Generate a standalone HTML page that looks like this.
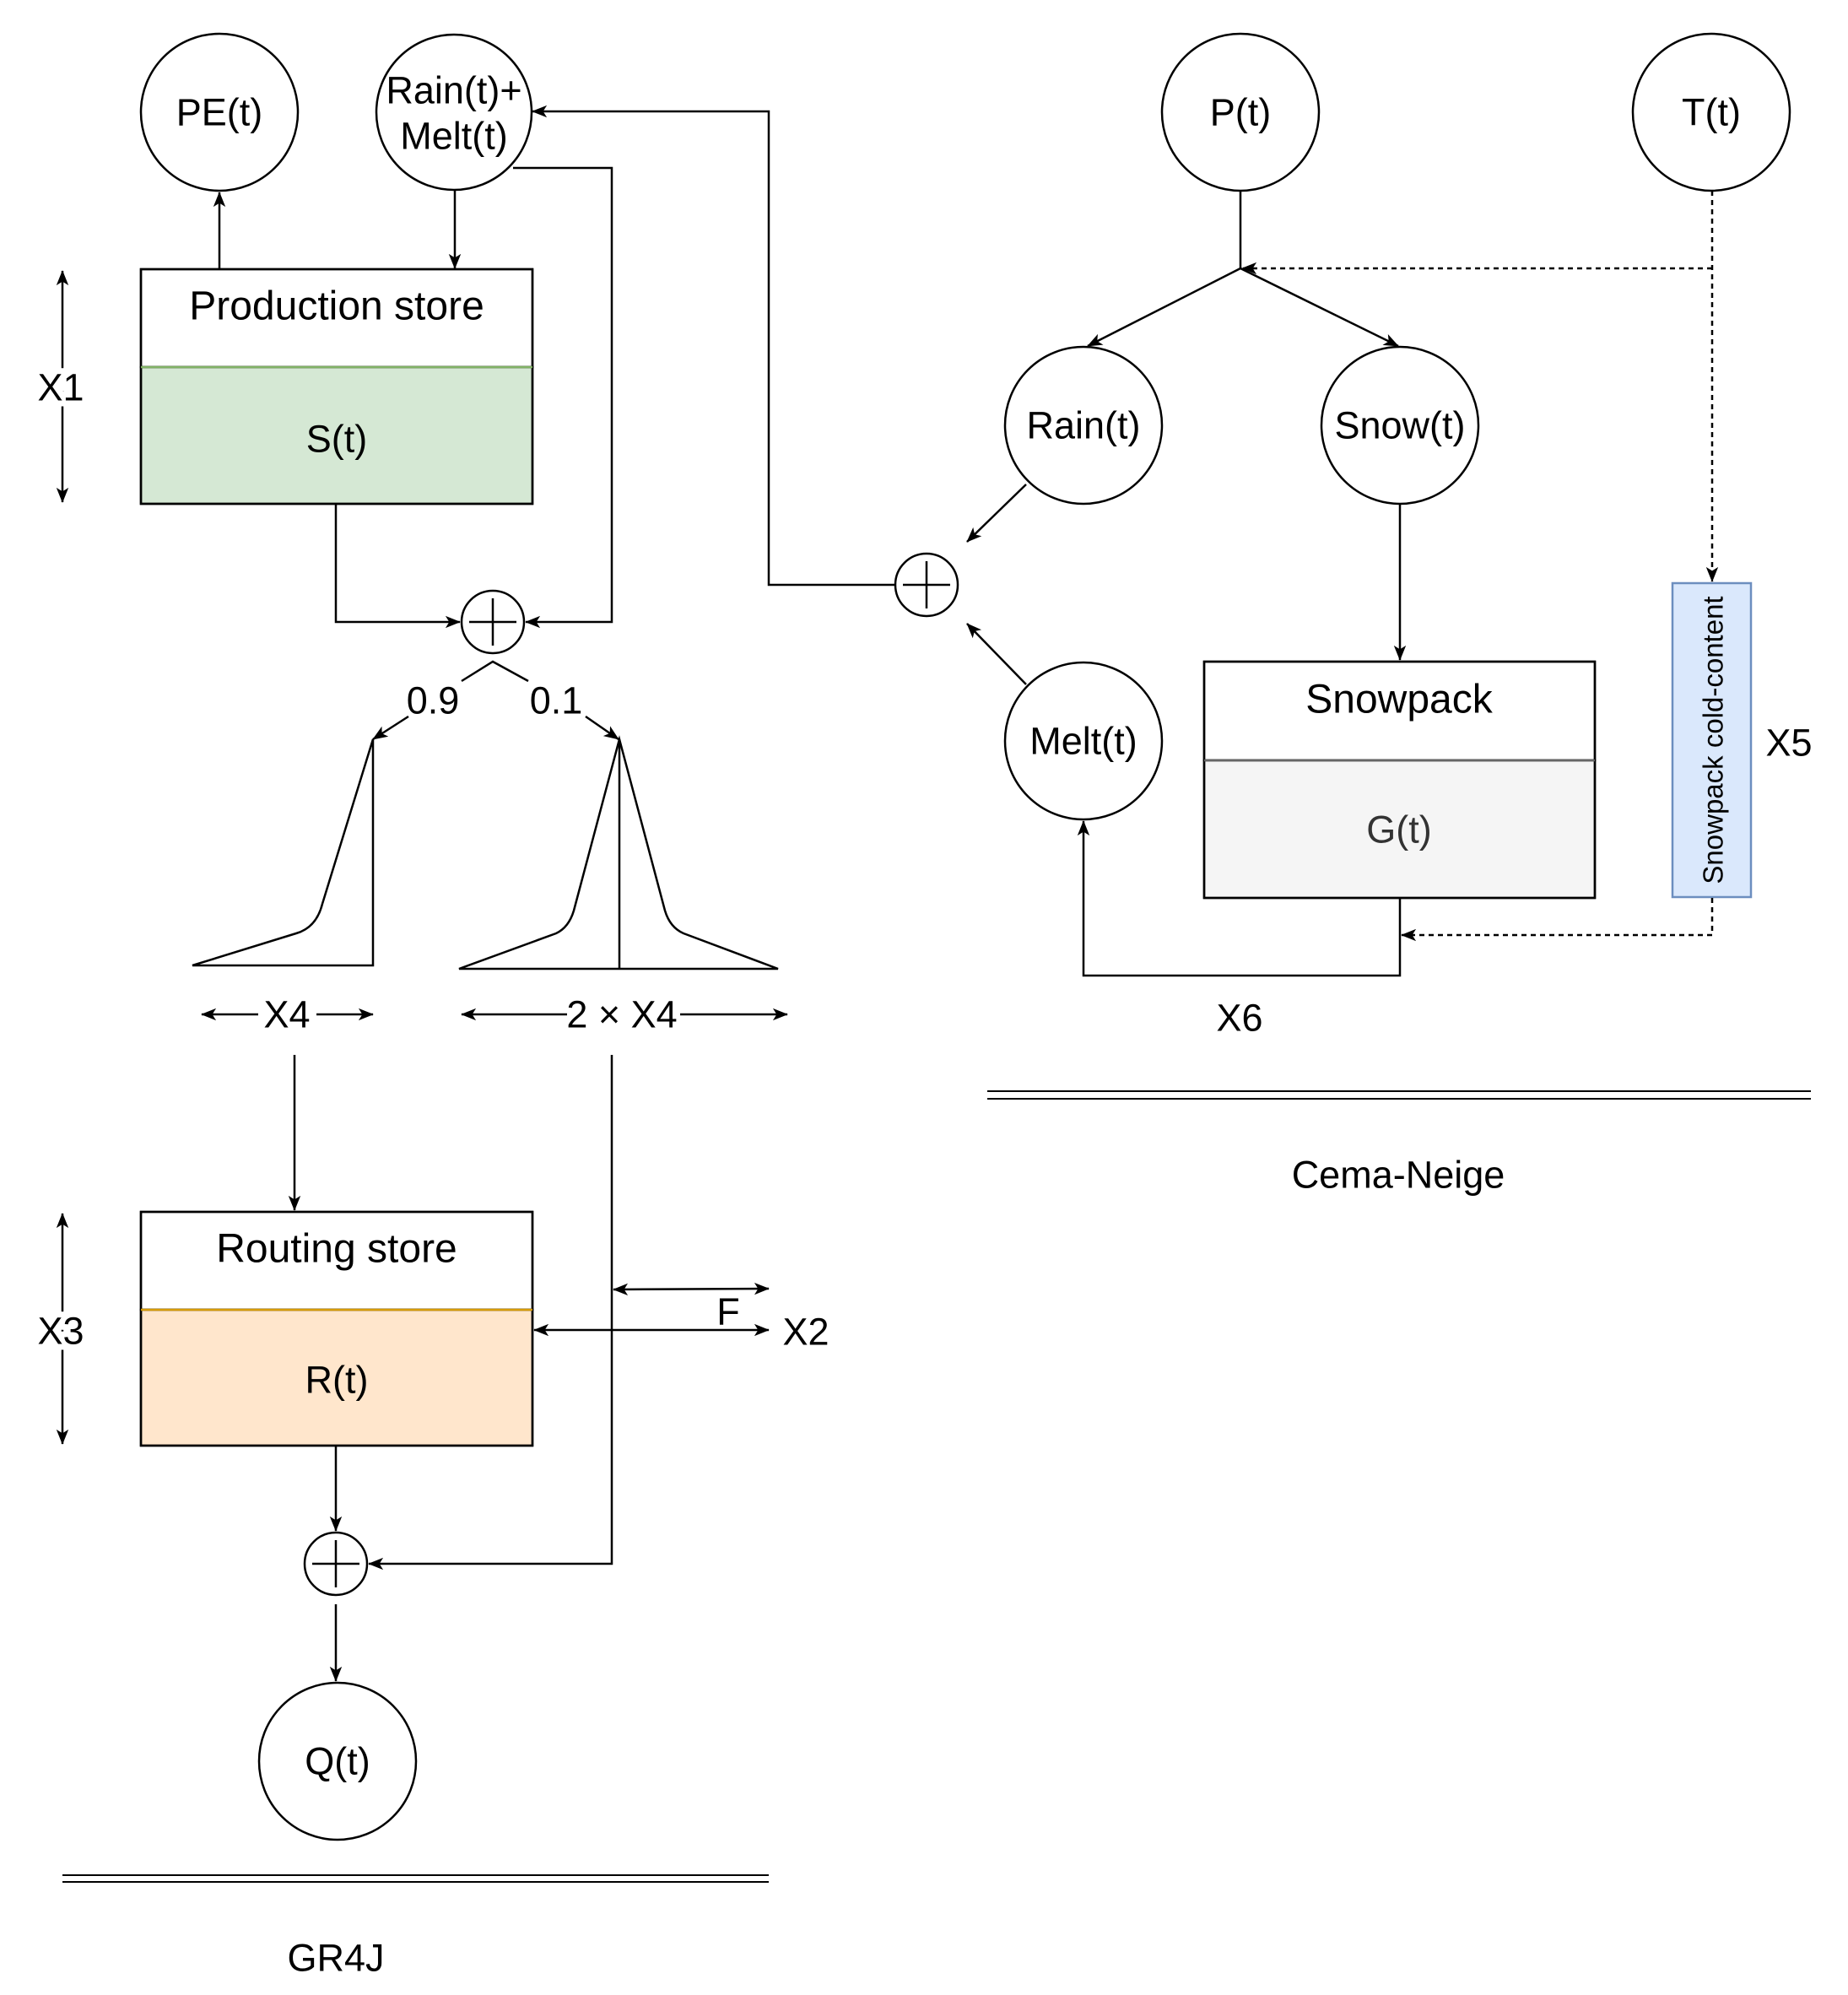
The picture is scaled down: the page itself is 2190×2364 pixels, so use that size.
<!DOCTYPE html>
<html><head><meta charset="utf-8"><style>
html,body{margin:0;padding:0;background:#fff;}
svg{display:block;}
text{font-family:"Liberation Sans","DejaVu Sans",sans-serif;fill:#000;}
</style></head><body>
<svg width="2190" height="2364" viewBox="0 0 2190 2364" xmlns="http://www.w3.org/2000/svg">
<defs>
<marker id="a" viewBox="0 0 20 20" refX="19" refY="10" markerWidth="18" markerHeight="18" markerUnits="userSpaceOnUse" orient="auto-start-reverse">
<path d="M0,2 L20,10 L0,18 L5,10 Z" fill="#000"/>
</marker>
</defs>
<g fill="none" stroke="#000" stroke-width="2.5">
<circle cx="260" cy="133" r="93" fill="#fff"/>
<circle cx="538" cy="133" r="92" fill="#fff"/>
<circle cx="1470" cy="133" r="93" fill="#fff"/>
<circle cx="2028" cy="133" r="93" fill="#fff"/>
<circle cx="1284" cy="504" r="93" fill="#fff"/>
<circle cx="1659" cy="504" r="93" fill="#fff"/>
<circle cx="1284" cy="878" r="93" fill="#fff"/>
<circle cx="400" cy="2087" r="93" fill="#fff"/>
<circle cx="584" cy="737" r="37"/>
<path d="M556,737 H612 M584,709 V765"/>
<circle cx="398" cy="1853" r="37"/>
<path d="M370,1853 H426 M398,1825 V1881"/>
<circle cx="1098" cy="693" r="37"/>
<path d="M1070,693 H1126 M1098,665 V721"/>
<rect x="167" y="319" width="464" height="116" fill="#fff"/>
<rect x="167" y="435" width="464" height="162" fill="#d5e8d4"/>
<rect x="167" y="319" width="464" height="278"/>
<line x1="167" y1="435" x2="631" y2="435" stroke="#82b366"/>
<rect x="167" y="1436" width="464" height="116" fill="#fff"/>
<rect x="167" y="1552" width="464" height="161" fill="#ffe6cc"/>
<rect x="167" y="1436" width="464" height="277"/>
<line x1="167" y1="1552" x2="631" y2="1552" stroke="#d79b00"/>
<rect x="1427" y="784" width="463" height="117" fill="#fff"/>
<rect x="1427" y="901" width="463" height="163" fill="#f5f5f5"/>
<rect x="1427" y="784" width="463" height="280"/>
<line x1="1427" y1="901" x2="1890" y2="901" stroke="#666"/>
<rect x="1982" y="691" width="93" height="372" fill="#dae8fc" stroke="#6c8ebf"/>

<line x1="260" y1="319" x2="260" y2="228" marker-end="url(#a)"/>
<line x1="539" y1="226" x2="539" y2="318" marker-end="url(#a)"/>
<line x1="74" y1="321" x2="74" y2="595" marker-start="url(#a)" marker-end="url(#a)"/>
<path d="M398,597 V737 H545" marker-end="url(#a)"/>
<path d="M608,199 H725 V737 H623" marker-end="url(#a)"/>
<path d="M1061,693 H911 V132 H631" marker-end="url(#a)"/>
<path d="M547,807 L584,784 L626,807"/>
<line x1="484" y1="849" x2="442" y2="876" marker-end="url(#a)"/>
<line x1="694" y1="849" x2="733" y2="876" marker-end="url(#a)"/>
<path d="M228,1144 L351,1106 Q375,1099 382,1071 L442,876 V1144 Z"/>
<path d="M544,1148 L659,1106 Q674,1099 680,1079 L734,876 L788,1079 Q794,1099 810,1106 L922,1148 Z"/>
<line x1="734" y1="876" x2="734" y2="1148"/>
<line x1="306" y1="1202" x2="239" y2="1202" marker-end="url(#a)"/>
<line x1="375" y1="1202" x2="442" y2="1202" marker-end="url(#a)"/>
<line x1="672" y1="1202" x2="547" y2="1202" marker-end="url(#a)"/>
<line x1="806" y1="1202" x2="933" y2="1202" marker-end="url(#a)"/>
<line x1="349" y1="1250" x2="349" y2="1434" marker-end="url(#a)"/>
<line x1="74" y1="1438" x2="74" y2="1711" marker-start="url(#a)" marker-end="url(#a)"/>
<path d="M725,1250 V1853 H437" marker-end="url(#a)"/>
<line x1="398" y1="1713" x2="398" y2="1814" marker-end="url(#a)"/>
<line x1="398" y1="1901" x2="398" y2="1992" marker-end="url(#a)"/>
<line x1="727" y1="1528" x2="911" y2="1527" marker-start="url(#a)" marker-end="url(#a)"/>
<line x1="633" y1="1576" x2="911" y2="1576" marker-start="url(#a)" marker-end="url(#a)"/>
<path d="M74,2222 H911 M74,2230 H911" stroke-width="2"/>

<line x1="1470" y1="226" x2="1470" y2="318"/>
<line x1="1470" y1="318" x2="1289" y2="410" marker-end="url(#a)"/>
<line x1="1470" y1="318" x2="1657" y2="410" marker-end="url(#a)"/>
<path d="M2029,318 H1472" stroke-dasharray="6,5" marker-end="url(#a)"/>
<path d="M2029,226 V689" stroke-dasharray="6,5" marker-end="url(#a)"/>
<line x1="1216" y1="574" x2="1146" y2="642" marker-end="url(#a)"/>
<line x1="1216" y1="811" x2="1146" y2="739" marker-end="url(#a)"/>
<line x1="1659" y1="597" x2="1659" y2="782" marker-end="url(#a)"/>
<path d="M1659,1064 V1156 H1284 V973" marker-end="url(#a)"/>
<path d="M2029,1064 V1108 H1661" stroke-dasharray="6,5" marker-end="url(#a)"/>
<path d="M1170,1293 H2146 M1170,1302 H2146" stroke-width="2"/>
</g>

<g font-size="45" text-anchor="middle" dominant-baseline="central">
<text x="260" y="133">PE(t)</text>
<text x="538" y="107">Rain(t)+</text>
<text x="538" y="161">Melt(t)</text>
<text x="1470" y="133">P(t)</text>
<text x="2028" y="133">T(t)</text>
<text x="1284" y="504">Rain(t)</text>
<text x="1659" y="504">Snow(t)</text>
<text x="1284" y="878">Melt(t)</text>
<text x="400" y="2087">Q(t)</text>
<text x="399" y="363" font-size="48">Production store</text>
<text x="399" y="520">S(t)</text>
<text x="399" y="1480" font-size="48">Routing store</text>
<text x="399" y="1635">R(t)</text>
<text x="1658" y="829" font-size="48">Snowpack</text>
<text x="1658" y="983" style="fill:#333">G(t)</text>
<text x="72" y="459" stroke="#fff" stroke-width="14" paint-order="stroke">X1</text>
<text x="72" y="1577" stroke="#fff" stroke-width="14" paint-order="stroke">X3</text>
<text x="513" y="830">0.9</text>
<text x="659" y="830">0.1</text>
<text x="340" y="1202">X4</text>
<text x="737" y="1202">2 × X4</text>
<text x="863" y="1554">F</text>
<text x="955" y="1578">X2</text>
<text x="398" y="2320">GR4J</text>
<text x="2120" y="880">X5</text>
<text x="1469" y="1206">X6</text>
<text x="1657" y="1392">Cema-Neige</text>
<text x="0" y="0" font-size="33" transform="translate(2030,877) rotate(-90)">Snowpack cold-content</text>
</g>
</svg>
</body></html>
